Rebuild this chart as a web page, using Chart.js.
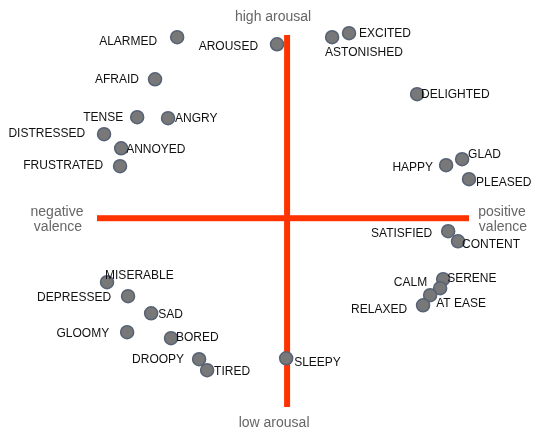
<!DOCTYPE html>
<html>
<head>
<meta charset="utf-8">
<script src="https://cdn.jsdelivr.net/npm/chart.js@4"></script>
<style>
html,body{margin:0;padding:0;background:#fff;}
canvas{display:block;}
</style>
</head>
<body>
<canvas id="c" width="540" height="446"></canvas>
<script>
// ---- data ----
const labels = ["ALARMED","AROUSED","ASTONISHED","EXCITED","DELIGHTED","HAPPY","GLAD","PLEASED",
  "AFRAID","TENSE","ANGRY","DISTRESSED","ANNOYED","FRUSTRATED",
  "SATISFIED","CONTENT","SERENE","CALM","AT EASE","RELAXED","SLEEPY",
  "MISERABLE","DEPRESSED","SAD","GLOOMY","BORED","DROOPY","TIRED"];
const valence = [-0.591,-0.054,0.242,0.333,0.699,0.855,0.941,0.978,
  -0.710,-0.806,-0.640,-0.984,-0.892,-0.898,
  0.866,0.919,0.839,0.823,0.769,0.731,-0.005,
  -0.968,-0.855,-0.731,-0.860,-0.624,-0.473,-0.430];
const arousal = [0.973,0.935,0.973,0.995,0.667,0.285,0.317,0.210,
  0.747,0.543,0.538,0.452,0.376,0.280,
  -0.070,-0.124,-0.328,-0.376,-0.414,-0.468,-0.753,
  -0.344,-0.419,-0.511,-0.613,-0.645,-0.758,-0.817];
const axisTitles = {top:"high arousal", bottom:"low arousal", left:["negative","valence"], right:["positive","valence"]};

// ---- label placement (style) : [align, dx, dy] ----
const labelPlace = {
  "ALARMED":["right",-20,4],"AROUSED":["right",-19,2],"ASTONISHED":["left",-7,15],"EXCITED":["left",10,1],
  "DELIGHTED":["left",4,1],"HAPPY":["right",-13,2],"GLAD":["left",6,-5],"PLEASED":["left",7,4],
  "AFRAID":["right",-16,0],"TENSE":["right",-14,0],"ANGRY":["left",7,1],"DISTRESSED":["right",-19,0],
  "ANNOYED":["left",5,1],"FRUSTRATED":["right",-17,0],"SATISFIED":["right",-16,2],"CONTENT":["left",4,3],
  "SERENE":["left",4,-1],"CALM":["right",-13,-5],"AT EASE":["left",6,8],"RELAXED":["right",-16,4],
  "SLEEPY":["left",8,4],"MISERABLE":["left",-2,-7],"DEPRESSED":["right",-17,2],"SAD":["left",7,1],
  "GLOOMY":["right",-18,1],"BORED":["left",5,0],"DROOPY":["right",-15,0],"TIRED":["left",7,2]
};

const points = labels.map((l,i)=>({x:valence[i], y:arousal[i], label:l}));

const axesPlugin = {
  id:'quadAxes',
  beforeDatasetsDraw(chart){
    const {ctx, chartArea:a, scales:{x,y}} = chart;
    const x0 = x.getPixelForValue(0), y0 = y.getPixelForValue(0);
    ctx.save();
    ctx.fillStyle = '#ff3300';
    ctx.fillRect(a.left, y0-3, a.right-a.left, 6);
    ctx.fillRect(x0-3, a.top, 6, a.bottom-a.top);
    ctx.fillStyle = '#666';
    ctx.font = '14px "Liberation Sans", Arial, sans-serif';
    ctx.textAlign = 'center';
    ctx.textBaseline = 'middle';
    ctx.fillText(axisTitles.top, x0-14, a.top-18);
    ctx.fillText(axisTitles.bottom, x0-13, a.bottom+16);
    ctx.fillText(axisTitles.left[0], a.left-40, y0-6);
    ctx.fillText(axisTitles.left[1], a.left-39, y0+9);
    ctx.fillText(axisTitles.right[0], a.right+33, y0-6);
    ctx.fillText(axisTitles.right[1], a.right+34, y0+9);
    ctx.restore();
  },
  afterDatasetsDraw(chart){
    const {ctx} = chart;
    const meta = chart.getDatasetMeta(0);
    ctx.save();
    ctx.font = '12px "Liberation Sans", Arial, sans-serif';
    ctx.fillStyle = '#111';
    ctx.textBaseline = 'middle';
    meta.data.forEach((el,i)=>{
      const lab = points[i].label;
      const p = labelPlace[lab] || ['left',8,0];
      ctx.textAlign = p[0];
      ctx.fillText(lab, el.x + p[1], el.y + p[2]);
    });
    ctx.restore();
  }
};

new Chart(document.getElementById('c'), {
  type:'scatter',
  data:{datasets:[{
    data:points,
    pointRadius:6.5,
    pointBackgroundColor:'#787878',
    pointBorderColor:'#566275',
    pointBorderWidth:1.5,
    clip:false
  }]},
  options:{
    responsive:false,
    animation:false,
    layout:{padding:{left:97,right:71,top:35,bottom:39}},
    plugins:{legend:{display:false},tooltip:{enabled:false}},
    scales:{
      x:{type:'linear',display:false,min:-1.022,max:0.978},
      y:{type:'linear',display:false,min:-1.015,max:0.985}
    }
  },
  plugins:[axesPlugin]
});
</script>
</body>
</html>
